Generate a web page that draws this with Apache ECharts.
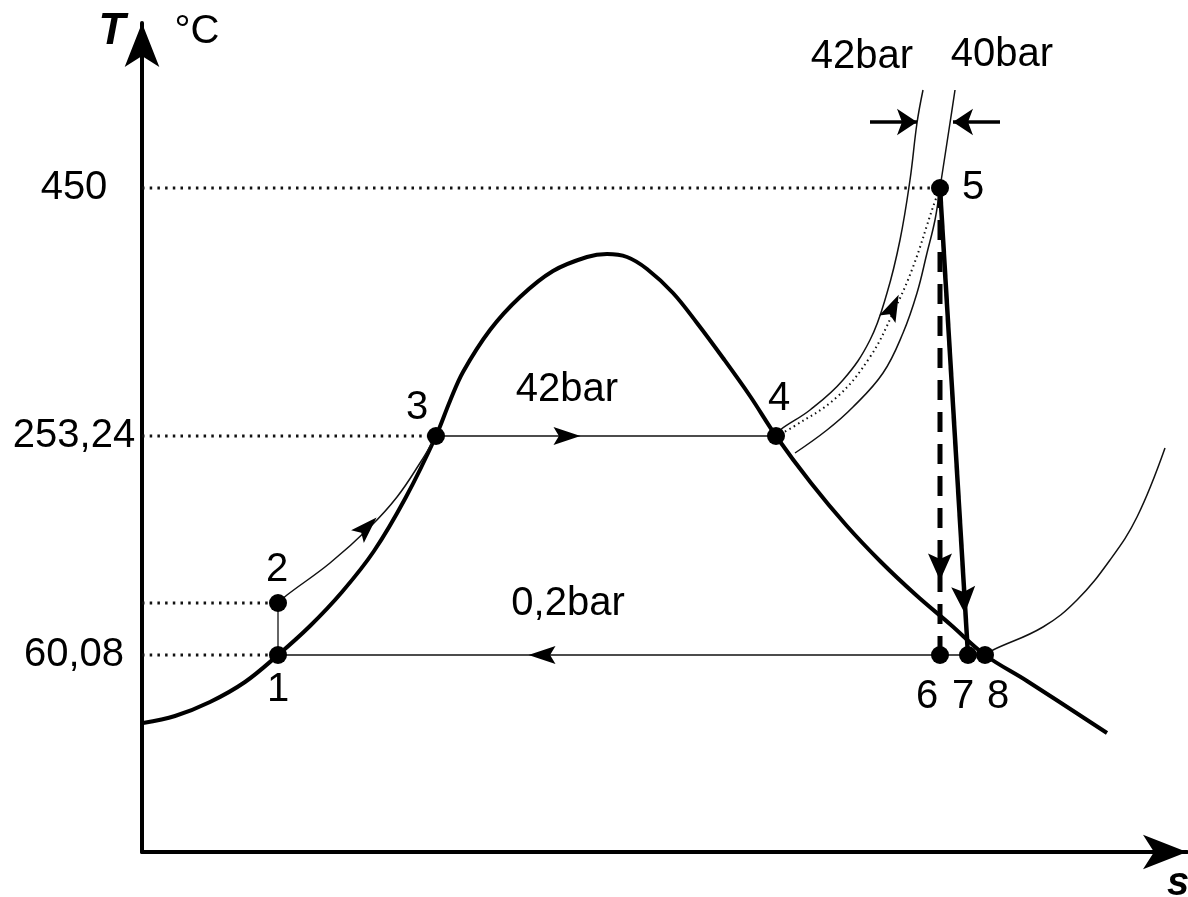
<!DOCTYPE html>
<html>
<head>
<meta charset="utf-8">
<style>
html, body { margin: 0; padding: 0; background: #fff; }
#ts { width: 1188px; height: 897px; }
</style>
<script src="https://cdn.jsdelivr.net/npm/echarts@6/dist/echarts.min.js"></script>
</head>
<body>
<div id="ts"></div>
<script>
// schematic T-s diagram, both axes in drawing units measured from the origin
var tickH = [664, 416, 197];
var tickText = ['450', '253,24', '60,08'];

// saturation dome
var dome = [[1,129],[33,136],[68,150],[103,170],[136,197],[168,226],[200,260],[232,301],[264,355],[294,416],[308,451],[321,480],[348,522],[378,555],[411,581],[445,595],[465,598],[485,595],[505,583],[531,559],[555,529],[581,494],[608,456],[634,416],[669,369],[704,327],[739,290],[774,257],[809,227],[843,197],[885,171],[965,119]];
// isobars in the superheated region
var bar42 = [[781,762],[775,729],[768,672],[758,612],[745,559],[728,512],[701,472],[668,442],[638,422],[634,416]];
var bar40 = [[813,762],[808,729],[798,664],[793,632],[785,599],[775,559],[761,519],[741,479],[711,445],[685,422],[653,399]];
var bar02 = [[843,197],[851,202],[901,225],[935,252],[968,292],[995,335],[1023,404]];
// process lines
var p12 = [[136,197],[136,249]];
var p23 = [[136,249],[145,257],[188,289],[228,325],[255,355],[278,389],[294,416]];
var p34 = [[294,416],[634,416]];
var p45 = [[634,416],[651,425],[695,455],[728,495],[751,539],[771,585],[791,645],[798,664]];
var p56 = [[798,664],[798,197]];
var p57 = [[798,664],[826,197]];
var p81 = [[843,197],[136,197]];
var guides = [[0,664],[798,664],'-',[0,416],[294,416],'-',[0,249],[136,249],'-',[0,197],[136,197]];

var stateNames = ['1','2','3','4','5','6','7','8'];
var statePts = [[136,197],[136,249],[294,416],[634,416],[798,664],[798,197],[826,197],[843,197]];
var stateLabelOffset = [[0,35],[-1,-33],[-19,-28],[3,-37],[33,0],[-13,42],[-5,42],[13,42]];

// direction arrows: s, h, rotation
var thinArrows = [[225,325,-45],[425,416,-90],[400,197,90],[751,545,-25]];
var thickArrows = [[798,285,180],[822,252,183.4]];
var pressArrows = [[[728,730],[775,730]], [[858,730],[811,730]]];

var notes = [[425,462,'42bar'],[426,248,'0,2bar'],[720,795,'42bar'],[860,797,'40bar']];

var FONT = 'Liberation Sans, Arial, sans-serif';
var arrowPath = 'path://M0,0L10,30L0,24L-10,30Z';

function curve(data, width, type, color, smooth) {
    return {
        type: 'line', data: data, symbol: 'none', smooth: smooth || 0,
        clip: false, silent: true, connectNulls: false,
        lineStyle: { width: width, type: type || 'solid', color: color || '#000', opacity: 1 },
        z: 2
    };
}

var option = {
    animation: false,
    backgroundColor: '#fff',
    textStyle: { fontFamily: FONT },
    grid: { left: 142, right: 1, top: 23, bottom: 45, outerBoundsMode: 'none', containLabel: false },
    xAxis: {
        type: 'value', min: 0, max: 1045,
        name: 's', nameLocation: 'end', nameGap: -9,
        nameTextStyle: { fontSize: 40, fontWeight: 'bold', fontStyle: 'italic', color: '#000', fontFamily: FONT, align: 'center', verticalAlign: 'top', padding: [12, 0, 0, 0] },
        axisLine: { lineStyle: { color: '#000', width: 4 }, symbol: ['none', 'arrow'], symbolSize: [26, 44] },
        axisTick: { show: false }, axisLabel: { show: false }, splitLine: { show: false }
    },
    yAxis: {
        type: 'value', min: 0, max: 829,
        name: '{t|T}{c|°C}', nameLocation: 'end', nameGap: -9,
        nameTextStyle: {
            align: 'center', verticalAlign: 'middle', color: '#000', fontFamily: FONT,
            rich: {
                t: { width: 110, align: 'center', fontSize: 44, fontWeight: 'bold', fontStyle: 'italic', fontFamily: FONT, color: '#000' },
                c: { width: 60, align: 'center', fontSize: 40, fontFamily: FONT, color: '#000' }
            }
        },
        axisLine: { lineStyle: { color: '#000', width: 4 }, symbol: ['none', 'arrow'], symbolSize: [26, 44] },
        axisTick: { show: false },
        axisLabel: {
            customValues: tickH,
            formatter: function (v) { return tickText[tickH.indexOf(v)]; },
            fontSize: 40, color: '#000', fontFamily: FONT, align: 'center', margin: 68
        },
        splitLine: { show: false }
    },
    series: [
        curve(guides, 3, [2.5, 5.2], '#111'),
        curve(dome, 4, 'solid', '#000', 0.35),
        curve(bar42, 1.5, 'solid', '#111', 0.4),
        curve(bar40, 1.5, 'solid', '#111', 0.4),
        curve(bar02, 1.5, 'solid', '#111', 0.4),
        curve(p12, 2, 'solid', '#666'),
        curve(p23, 1.5, 'solid', '#111', 0.4),
        curve(p34, 1.5, 'solid', '#111'),
        curve(p45, 2, [1.5, 3.5], '#111', 0.4),
        curve(p56, 5, [20, 12], '#000'),
        curve(p57, 4.5, 'solid', '#000'),
        curve(p81, 1.5, 'solid', '#111'),
        {
            type: 'scatter', data: thinArrows, clip: false, silent: true, z: 4,
            symbol: arrowPath, symbolSize: [18, 27],
            symbolRotate: function (v) { return v[2]; },
            itemStyle: { color: '#000', opacity: 1 }
        },
        {
            type: 'scatter', data: thickArrows, clip: false, silent: true, z: 4,
            symbol: arrowPath, symbolSize: [24, 27],
            symbolRotate: function (v) { return v[2]; },
            itemStyle: { color: '#000', opacity: 1 }
        },
        {
            type: 'lines', coordinateSystem: 'cartesian2d', silent: true, z: 4,
            data: pressArrows.map(function (c) { return { coords: c }; }),
            symbol: ['none', 'arrow'], symbolSize: 20,
            lineStyle: { color: '#000', width: 3.5, opacity: 1 }
        },
        {
            type: 'scatter', clip: false, silent: true, z: 5,
            symbol: 'circle', symbolSize: 18,
            itemStyle: { color: '#000', opacity: 1 },
            data: statePts.map(function (p, i) {
                return {
                    value: p, name: stateNames[i],
                    label: { offset: stateLabelOffset[i] }
                };
            }),
            label: {
                show: true, position: 'inside', formatter: '{b}',
                fontSize: 40, color: '#000', fontFamily: FONT,
                align: 'center', verticalAlign: 'middle'
            }
        },
        {
            type: 'scatter', clip: false, silent: true, z: 5,
            symbolSize: 0,
            itemStyle: { opacity: 1 },
            data: notes.map(function (n) { return { value: [n[0], n[1]], name: n[2] }; }),
            label: {
                show: true, position: 'inside', formatter: '{b}',
                fontSize: 40, color: '#000', fontFamily: FONT,
                align: 'center', verticalAlign: 'middle'
            }
        }
    ]
};

var chart = echarts.init(document.getElementById('ts'));
chart.setOption(option);
</script>
</body>
</html>
